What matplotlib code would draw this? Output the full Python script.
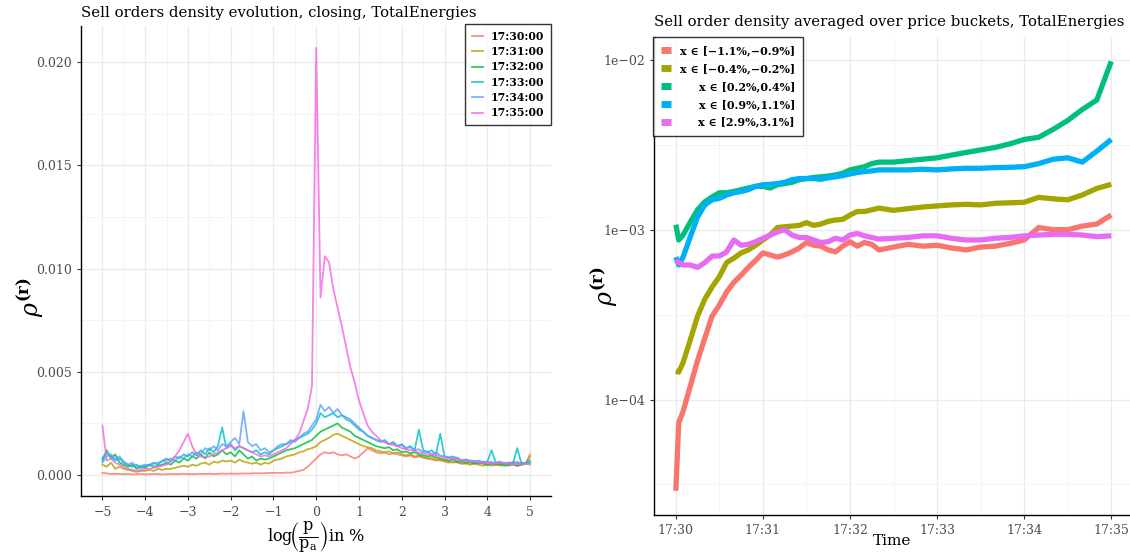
import numpy as np
import matplotlib.pyplot as plt
from matplotlib.ticker import FormatStrFormatter, MultipleLocator

plt.rcParams['font.family'] = ['DejaVu Serif', 'DejaVu Sans']
plt.rcParams['mathtext.fontset'] = 'dejavuserif'

# ---------- left panel data: density in units of 1e-4, on a 0.1 % grid ----------
log_grid = np.linspace(-5, 5, 101)
left_labels = ['17:30:00', '17:31:00', '17:32:00', '17:33:00', '17:34:00', '17:35:00']
left_colors = ['#F8766D', '#B79F00', '#00BA38', '#00BFC4', '#619CFF', '#F564E3']

d_1730 = [1, 0.8, 0.5, 0.6, 0.5, 0.4, 0.5, 0.3, 0.4, 0.5, 0.3, 0.4, 0.5, 0.4, 0.3, 0.4, 0.5,
          0.4, 0.5, 0.6, 0.5, 0.4, 0.5, 0.6, 0.5, 0.6, 0.5, 0.6, 0.7, 0.6, 0.7, 0.6, 0.7, 0.8,
          0.7, 0.8, 0.9, 0.8, 0.9, 1.0, 1.0, 1.1, 1.0, 1.2, 1.1, 1.5, 2, 2.5, 4, 6,
          8, 10, 11, 10.5, 11, 10, 9.5, 10, 9, 8, 9, 11, 13, 12, 11, 10.5, 11, 10, 10.5, 10,
          9.5, 9, 9.5, 8.5, 9, 8.5, 8, 7.5, 7, 7.5, 6.5, 6, 6.5, 6, 5.5, 6, 5.5, 6, 5.5, 6.5,
          6, 5.5, 6, 5, 6, 5.5, 6.5, 5.5, 6, 5.5, 10]
d_1731 = [5, 4, 6, 3, 4, 3, 2.5, 2, 1.5, 2, 2, 2.5, 2, 3, 2.5, 3, 3, 3.5, 4, 4.5, 4, 5, 4.5,
          5.5, 6, 5, 6.5, 6, 7, 6.5, 7, 6, 7.5, 6.5, 6, 5.5, 6, 5, 6, 5.5, 7, 7.5, 8, 9, 9.5,
          10, 11, 11.5, 12.5, 13, 14, 16, 17, 18, 19.5, 20, 19, 18, 17, 16, 15, 14, 13.5, 13,
          12, 11.5, 11, 11.5, 10.5, 11, 10, 9.5, 10, 9, 9.5, 8.5, 8, 8.5, 7.5, 7, 7, 6.5, 6,
          6.5, 5.5, 5.5, 5, 5.5, 5, 4.5, 5, 4.5, 5, 4.5, 5, 4.5, 5, 4.5, 5, 5.5, 9]
d_1732 = [7, 12, 8, 10, 6, 5, 4, 5, 3, 4, 3.5, 5, 4, 4.5, 5, 6, 5, 7, 6, 8, 7, 9, 8, 10, 8,
          11, 9, 10, 12, 10, 11, 9, 12, 10, 8, 9, 7, 8, 7.5, 8, 9, 10, 11, 12, 12.5, 13, 14,
          15, 16, 17, 19, 21, 22, 23, 24, 25, 23, 22, 21, 19, 18, 17, 16, 15, 14, 13.5, 13,
          13.5, 12, 12.5, 11, 11.5, 10.5, 11, 10, 9.5, 9, 9.5, 8.5, 8, 7.5, 7, 7.5, 6.5, 6.5,
          6, 6.5, 5.5, 6, 5.5, 5, 5.5, 5, 5.5, 4.5, 5, 5.5, 4.5, 5, 5.5, 6]
d_1733 = [8, 11, 9, 7, 8, 6, 5, 4, 5, 3.5, 4.5, 5, 6, 5, 7, 8, 6.5, 9, 8, 10, 9, 11, 9.5, 12,
          10, 13, 11, 14, 23, 13, 15, 12, 14, 13, 12, 11, 12, 10, 11, 10, 12, 13, 14, 15, 16,
          17, 18, 19, 20, 22, 25, 30, 28, 29, 30, 28, 29, 27, 26, 24, 22, 21, 19, 18, 17, 16,
          17, 15, 16, 14, 15, 13, 14, 12, 22, 12, 11, 12, 10, 20, 9, 8.5, 9, 8, 7, 7.5, 7,
          6.5, 7, 6, 6.5, 12, 6, 6.5, 5.5, 6, 5.5, 13, 5.5, 6, 7]
d_1734 = [6, 9, 10, 8, 9, 6.5, 5, 6, 4, 4.5, 5, 4.5, 5.5, 6, 6.5, 7, 8, 7, 9, 8, 10, 9, 11,
          10, 13, 12, 14, 12, 15, 14, 16, 18, 15, 31, 16, 14, 15, 12, 13, 11, 12, 14, 15, 15,
          17, 16, 18, 20, 21, 24, 27, 34, 31, 33, 30, 32, 29, 28, 27, 25, 23, 21, 19, 18, 17,
          16.5, 16, 15, 15.5, 14, 14.5, 13, 13.5, 12, 12.5, 11, 11.5, 10, 11, 9.5, 9, 8.5, 8,
          8.5, 7, 7.5, 6.5, 7, 6, 6.5, 6, 6.5, 5.5, 6, 5.5, 6, 5, 6.5, 5, 5.5, 6]
d_1735 = [24, 7, 8, 6, 5, 4, 3, 2.5, 2, 2.5, 3, 3, 3.5, 4, 4.5, 5, 7, 9, 12, 16, 20, 14, 10,
          9, 8.5, 9, 10, 11, 12, 13, 14, 13, 14, 13, 12, 11, 10, 9, 9.5, 9, 10, 11, 12, 13,
          15, 17, 20, 26, 32, 43, 207, 86, 106, 103, 90, 81, 72, 62, 52, 45, 36, 30, 24, 21,
          19, 17, 16, 15, 14.5, 14, 13, 12.5, 12, 11.5, 11, 10.5, 10, 10, 9.5, 9, 8.5, 8, 8,
          7.5, 7, 7, 6.5, 6.5, 6, 6, 6, 5.5, 5.5, 6, 5.5, 5.5, 5, 5.5, 5, 5.5, 5]
left_series = [d_1730, d_1731, d_1732, d_1733, d_1734, d_1735]

# ---------- right panel data: seconds after 17:30 ----------
secs = [0, 2, 5, 10, 15, 20, 25, 30, 35, 40, 45, 50, 55, 60, 65, 70, 75, 80, 85, 90, 95,
        100, 105, 110, 115, 120, 125, 130, 135, 140, 150, 160, 170, 180, 190, 200, 210,
        220, 230, 240, 250, 260, 270, 280, 290, 300]
bucket_labels = ['x ∈ [−1.1%,−0.9%]', 'x ∈ [−0.4%,−0.2%]', 'x ∈ [0.2%,0.4%]',
                 'x ∈ [0.9%,1.1%]', 'x ∈ [2.9%,3.1%]']
right_colors = ['#F8766D', '#A3A500', '#00BF7D', '#00B0F6', '#E76BF3']

b_m10 = [2.9e-5, 7.3e-5, 8.5e-5, 1.2e-4, 1.7e-4, 2.3e-4, 3.1e-4, 3.6e-4, 4.3e-4, 4.9e-4,
         5.4e-4, 6.0e-4, 6.6e-4, 7.3e-4, 7.1e-4, 6.9e-4, 7.1e-4, 7.4e-4, 7.8e-4, 8.4e-4,
         8.1e-4, 8.0e-4, 7.6e-4, 7.4e-4, 8.0e-4, 8.5e-4, 8.0e-4, 8.4e-4, 8.2e-4, 7.6e-4,
         7.9e-4, 8.2e-4, 8.0e-4, 8.1e-4, 7.8e-4, 7.6e-4, 7.9e-4, 8.0e-4, 8.3e-4, 8.7e-4,
         1.03e-3, 1.0e-3, 1.0e-3, 1.05e-3, 1.08e-3, 1.22e-3]
b_m03 = [1.47e-4, 1.45e-4, 1.65e-4, 2.25e-4, 3.1e-4, 3.9e-4, 4.6e-4, 5.3e-4, 6.4e-4, 6.8e-4,
         7.3e-4, 7.6e-4, 8.1e-4, 8.7e-4, 9.3e-4, 1.03e-3, 1.04e-3, 1.05e-3, 1.06e-3, 1.1e-3,
         1.06e-3, 1.08e-3, 1.12e-3, 1.14e-3, 1.15e-3, 1.22e-3, 1.28e-3, 1.28e-3, 1.31e-3,
         1.34e-3, 1.3e-3, 1.33e-3, 1.36e-3, 1.38e-3, 1.4e-3, 1.41e-3, 1.4e-3, 1.43e-3,
         1.44e-3, 1.45e-3, 1.55e-3, 1.52e-3, 1.5e-3, 1.6e-3, 1.75e-3, 1.85e-3]
b_p03 = [1.07e-3, 8.7e-4, 9.3e-4, 1.11e-3, 1.31e-3, 1.46e-3, 1.56e-3, 1.65e-3, 1.65e-3,
         1.68e-3, 1.72e-3, 1.76e-3, 1.8e-3, 1.8e-3, 1.76e-3, 1.84e-3, 1.87e-3, 1.9e-3,
         1.97e-3, 2.0e-3, 2.03e-3, 2.05e-3, 2.07e-3, 2.1e-3, 2.15e-3, 2.25e-3, 2.3e-3,
         2.35e-3, 2.45e-3, 2.5e-3, 2.5e-3, 2.55e-3, 2.6e-3, 2.65e-3, 2.75e-3, 2.85e-3,
         2.95e-3, 3.05e-3, 3.2e-3, 3.4e-3, 3.5e-3, 3.9e-3, 4.4e-3, 5.1e-3, 5.8e-3, 9.8e-3]
b_p10 = [6.9e-4, 6.2e-4, 6.9e-4, 9.1e-4, 1.19e-3, 1.4e-3, 1.5e-3, 1.53e-3, 1.6e-3, 1.65e-3,
         1.68e-3, 1.72e-3, 1.8e-3, 1.84e-3, 1.85e-3, 1.87e-3, 1.9e-3, 1.97e-3, 2.0e-3,
         2.0e-3, 2.0e-3, 1.98e-3, 2.02e-3, 2.05e-3, 2.08e-3, 2.13e-3, 2.17e-3, 2.2e-3,
         2.22e-3, 2.25e-3, 2.25e-3, 2.25e-3, 2.27e-3, 2.25e-3, 2.28e-3, 2.3e-3, 2.3e-3,
         2.32e-3, 2.33e-3, 2.35e-3, 2.45e-3, 2.6e-3, 2.65e-3, 2.5e-3, 2.9e-3, 3.4e-3]
b_p30 = [6.6e-4, 6.4e-4, 6.2e-4, 6.2e-4, 6.0e-4, 6.4e-4, 7.0e-4, 7.0e-4, 7.4e-4, 8.7e-4,
         8.1e-4, 8.2e-4, 8.5e-4, 8.9e-4, 9.3e-4, 9.7e-4, 1.0e-3, 9.3e-4, 9.0e-4, 9.0e-4,
         8.7e-4, 8.4e-4, 8.5e-4, 8.9e-4, 8.7e-4, 9.3e-4, 9.5e-4, 9.2e-4, 9.0e-4, 8.8e-4,
         8.9e-4, 9.0e-4, 9.2e-4, 9.2e-4, 8.9e-4, 8.7e-4, 8.7e-4, 8.9e-4, 9.0e-4, 9.2e-4,
         9.3e-4, 9.4e-4, 9.4e-4, 9.3e-4, 9.1e-4, 9.2e-4]
right_series = [b_m10, b_m03, b_p03, b_p10, b_p30]
time_ticks = [0, 60, 120, 180, 240, 300]
time_labels = ['17:30', '17:31', '17:32', '17:33', '17:34', '17:35']


def style_axes(ax):
    for s in ['top', 'right']:
        ax.spines[s].set_visible(False)
    for s in ['left', 'bottom']:
        ax.spines[s].set_linewidth(1.0)
    ax.set_axisbelow(True)
    ax.grid(True, which='major', color='#EBEBEB', lw=1.0)
    ax.grid(True, which='minor', color='#F2F2F2', lw=0.6)
    ax.tick_params(which='major', length=3, color='#333333', labelcolor='#4D4D4D', labelsize=9)
    ax.tick_params(which='minor', length=0)


def right_align_labels(leg):
    # keep handles on the left, push every label so that right edges line up
    renderer = fig.canvas.get_renderer()
    widths = [t.get_window_extent(renderer).width for t in leg.get_texts()]
    rows = leg._legend_handle_box.get_children()[0].get_children()
    for row, w in zip(rows, widths):
        row.sep += (max(widths) - w) * 72 / fig.dpi


fig = plt.figure(figsize=(11.3, 5.6), dpi=100)

# ---------- left ----------
ax1 = fig.add_axes([0.0717, 0.1134, 0.4163, 0.840])
for vals, lab, col in zip(left_series, left_labels, left_colors):
    ax1.plot(log_grid, np.array(vals) * 1e-4, color=col, lw=1.3, alpha=0.8, label=lab)
ax1.set_xlim(-5.5, 5.5)
ax1.set_ylim(-0.00104, 0.02175)
ax1.set_xticks(range(-5, 6))
ax1.xaxis.set_minor_locator(MultipleLocator(0.5))
ax1.set_yticks([0, 0.005, 0.01, 0.015, 0.02])
ax1.yaxis.set_minor_locator(MultipleLocator(0.0025))
ax1.yaxis.set_major_formatter(FormatStrFormatter('%.3f'))
style_axes(ax1)
leg1 = ax1.legend(loc='upper right', bbox_to_anchor=(1.0, 1.005), borderaxespad=0,
                  frameon=True, fancybox=False, edgecolor='black', handlelength=1.0,
                  labelspacing=0.4, handletextpad=0.7, borderpad=0.65,
                  prop={'weight': 'bold', 'size': 7.8})
leg1.get_frame().set_linewidth(1.0)

fig.text(81 / 1130, 1 - 13 / 560, 'Sell orders density evolution, closing, TotalEnergies',
         fontsize=10.7, va='center', ha='left')
fig.text(30 / 1130, 0.47, r'$\rho^{\mathbf{(r)}}$', fontsize=17, rotation=90,
         va='center', ha='center')
fig.text(316 / 1130, 1 - 536 / 560,
         r'$\mathrm{log}\!\left(\dfrac{\mathrm{p}}{\mathrm{p_a}}\right)$in %',
         fontsize=11.5, va='center', ha='center')

# ---------- right ----------
ax2 = fig.add_axes([0.5788, 0.0804, 0.4239, 0.8536])
for vals, lab, col in zip(right_series, bucket_labels, right_colors):
    ax2.plot(secs, vals, color=col, lw=3.8, label=lab, solid_capstyle='butt',
             solid_joinstyle='round')
ax2.set_yscale('log')
ax2.set_xlim(-15, 315)
ax2.set_ylim(10 ** -4.68, 10 ** -1.865)
ax2.set_xticks(time_ticks)
ax2.set_xticklabels(time_labels)
ax2.set_xticks([30, 90, 150, 210, 270], minor=True)
ax2.set_yticks([1e-4, 1e-3, 1e-2])
ax2.set_yticklabels(['1e−04', '1e−03', '1e−02'])
ax2.set_yticks([10 ** -4.5, 10 ** -3.5, 10 ** -2.5], minor=True)
ax2.yaxis.set_minor_formatter(plt.NullFormatter())
style_axes(ax2)
leg2 = ax2.legend(loc='upper left', bbox_to_anchor=(-0.003, 1.0), borderaxespad=0,
                  frameon=True, fancybox=False, edgecolor='black', handlelength=0.9,
                  labelspacing=0.62, handletextpad=0.8, borderpad=0.75,
                  prop={'weight': 'bold', 'size': 8.0})
leg2.get_frame().set_linewidth(1.0)
for h in leg2.legend_handles:
    h.set_linewidth(5)
right_align_labels(leg2)

fig.text(654 / 1130, 1 - 22 / 560, 'Sell order density averaged over price buckets, TotalEnergies',
         fontsize=10.7, va='center', ha='left')
fig.text(604 / 1130, 0.49, r'$\rho^{\mathbf{(r)}}$', fontsize=17, rotation=90,
         va='center', ha='center')
fig.text(892 / 1130, 1 - 541 / 560, 'Time', fontsize=11, va='center', ha='center')

fig.savefig('out.png', dpi=100)
